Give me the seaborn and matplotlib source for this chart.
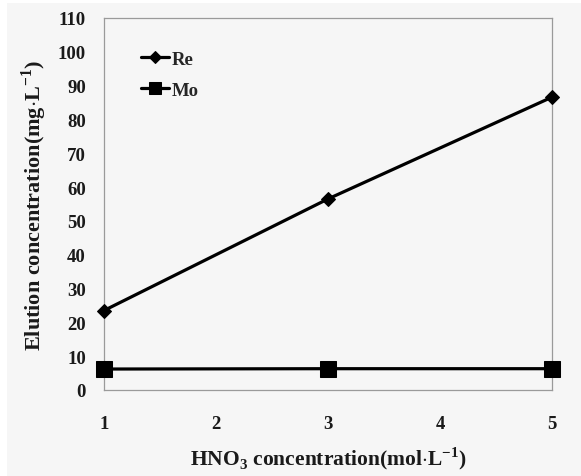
import matplotlib
matplotlib.use("Agg")
import matplotlib.pyplot as plt
from matplotlib.patches import Rectangle
import seaborn as sns
import pandas as pd

hno3 = [1, 3, 5]
re_vals = [23.5, 56.5, 86.6]
mo_vals = [6.2, 6.3, 6.3]
x_ticks = [1, 2, 3, 4, 5]
y_ticks = list(range(0, 111, 10))

sns.set_theme(style="white")
plt.rcParams['font.family'] = ['Liberation Serif', 'DejaVu Serif']
plt.rcParams['mathtext.fontset'] = 'custom'
plt.rcParams['mathtext.rm'] = 'Liberation Serif:bold'
plt.rcParams['mathtext.bf'] = 'Liberation Serif:bold'

bg = '#f6f6f6'
W, H = 581, 477
fig = plt.figure(figsize=(5.81, 4.77), dpi=100, facecolor='white')
fig.patches.append(Rectangle((7 / W, 0), 1, 1 - 4 / H, transform=fig.transFigure,
                             facecolor=bg, edgecolor='none', zorder=-10))
ax = fig.add_axes([104 / W, 86 / H, 448 / W, 372 / H])
ax.set_facecolor(bg)

df_re = pd.DataFrame({"x": hno3, "y": re_vals})
df_mo = pd.DataFrame({"x": hno3, "y": mo_vals})
sns.lineplot(data=df_re, x="x", y="y", ax=ax, color='black', lw=2.3,
             marker='D', markersize=7.5, markeredgecolor='black', label='Re',
             clip_on=False, zorder=5)
sns.lineplot(data=df_mo, x="x", y="y", ax=ax, color='black', lw=2.3,
             marker='s', markersize=11.5, markeredgecolor='black', label='Mo',
             clip_on=False, zorder=5)

ax.set_xlim(1, 5)
ax.set_ylim(0, 110)
ax.set_xticks(x_ticks)
ax.set_yticks(y_ticks)
ax.tick_params(axis='both', length=0, labelsize=13.5, colors='#1a1a1a')
ax.tick_params(axis='x', pad=18)
ax.tick_params(axis='y', pad=13)
for lab in ax.get_xticklabels() + ax.get_yticklabels():
    lab.set_fontweight('bold')
for s in ax.spines.values():
    s.set_color('#9a9a9a')
    s.set_linewidth(0.9)

ax.set_xlabel(r'HNO$_3$ concentration(mol$\cdot$L$^{-1}$)', fontsize=15.5,
              fontweight='bold', labelpad=9, color='#1a1a1a')
ax.set_ylabel(r'Elution concentration(mg$\cdot$L$^{-1}$)', fontsize=16,
              fontweight='bold', labelpad=6, color='#1a1a1a')

leg = ax.legend(loc='center left', bbox_to_anchor=(0.045, 0.848), frameon=False,
                handlelength=1.5, handletextpad=0.12, labelspacing=0.75,
                prop={'family': 'Liberation Serif', 'weight': 'bold', 'size': 13.5})
for h in leg.legend_handles:
    h.set_markersize(h.get_markersize() * 0.8)

fig.savefig("out.png", dpi=100, facecolor='white')
